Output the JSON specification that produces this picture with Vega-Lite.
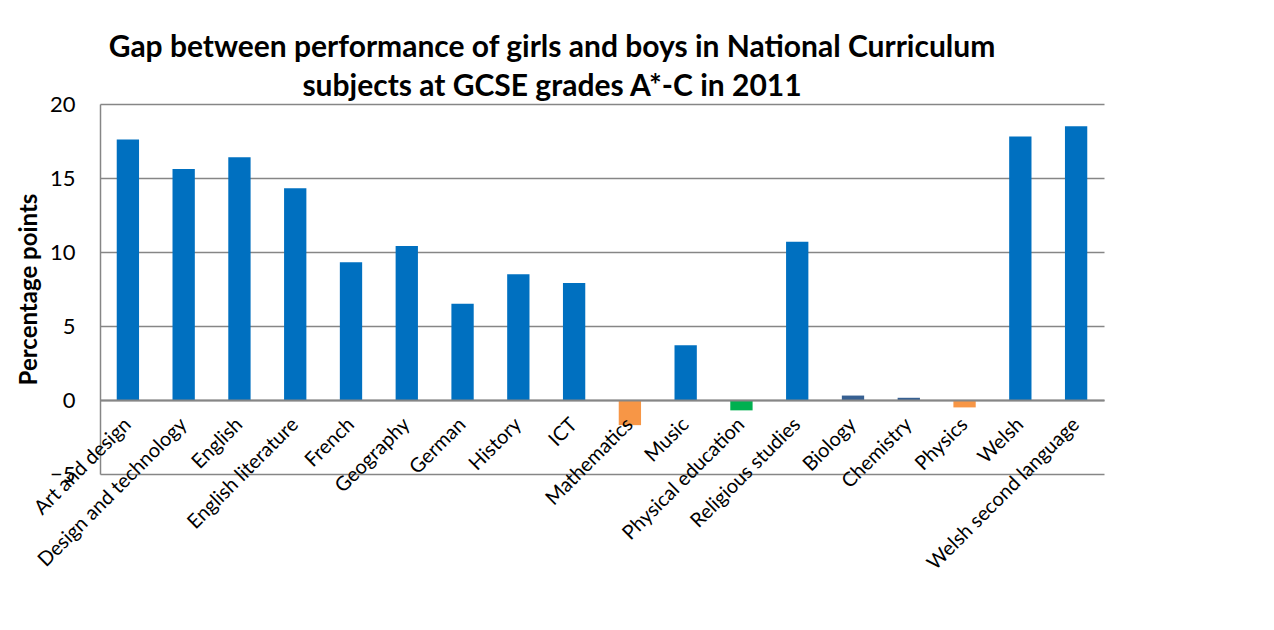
{
  "$schema": "https://vega.github.io/schema/vega-lite/v6.json",
  "width": 1004,
  "height": 370,
  "autosize": {"type": "none"},
  "padding": {"left": 100, "top": 104, "right": 170, "bottom": 156},
  "background": "white",
  "config": {"view": {"stroke": null}},
  "title": {
    "text": ["Gap between performance of girls and boys in National Curriculum", "subjects at GCSE grades A*-C  in 2011"],
    "font": "Lato",
    "fontSize": 30,
    "fontWeight": "bold",
    "color": "black",
    "anchor": "middle",
    "frame": "group",
    "dx": -50,
    "offset": -9,
    "lineHeight": 39
  },
  "data": {
    "values": [
      {"subject": "Art and design", "gap": 17.6},
      {"subject": "Design and technology", "gap": 15.6},
      {"subject": "English", "gap": 16.4},
      {"subject": "English literature", "gap": 14.3},
      {"subject": "French", "gap": 9.3},
      {"subject": "Geography", "gap": 10.4},
      {"subject": "German", "gap": 6.5},
      {"subject": "History", "gap": 8.5},
      {"subject": "ICT", "gap": 7.9},
      {"subject": "Mathematics", "gap": -1.7},
      {"subject": "Music", "gap": 3.7},
      {"subject": "Physical education", "gap": -0.7},
      {"subject": "Religious studies", "gap": 10.7},
      {"subject": "Biology", "gap": 0.3},
      {"subject": "Chemistry", "gap": 0.15},
      {"subject": "Physics", "gap": -0.5},
      {"subject": "Welsh", "gap": 17.8},
      {"subject": "Welsh second language", "gap": 18.5}
    ]
  },
  "mark": {"type": "bar"},
  "encoding": {
    "x": {
      "field": "subject",
      "type": "nominal",
      "sort": null,
      "scale": {"paddingInner": 0.6, "paddingOuter": 0.3},
      "axis": {
        "title": null,
        "orient": "bottom",
        "offset": -74,
        "labelAngle": -45,
        "labelFont": "Lato",
        "labelFontSize": 20,
        "labelColor": "black",
        "labelPadding": 14,
        "labelOffset": -7,
        "labelLimit": 0,
        "labelOverlap": false,
        "ticks": false,
        "grid": false,
        "domainColor": "#868686",
        "domainWidth": 2,
        "zindex": 1
      }
    },
    "y": {
      "field": "gap",
      "type": "quantitative",
      "scale": {"domain": [-5, 20], "nice": false, "zero": false},
      "axis": {
        "title": "Percentage points",
        "titleFont": "Lato",
        "titleFontSize": 24,
        "titleFontWeight": "bold",
        "titleColor": "black",
        "titlePadding": 8,
        "values": [-5, 0, 5, 10, 15, 20],
        "labelFont": "Lato",
        "labelFontSize": 22,
        "labelColor": "black",
        "labelPadding": 25,
        "ticks": false,
        "grid": true,
        "gridColor": "#868686",
        "gridWidth": 1.5,
        "domainColor": "#868686",
        "domainWidth": 1.5
      }
    },
    "color": {
      "field": "subject",
      "type": "nominal",
      "legend": null,
      "scale": {
        "domain": ["Art and design", "Design and technology", "English", "English literature", "French", "Geography", "German", "History", "ICT", "Mathematics", "Music", "Physical education", "Religious studies", "Biology", "Chemistry", "Physics", "Welsh", "Welsh second language"],
        "range": ["#0070C0", "#0070C0", "#0070C0", "#0070C0", "#0070C0", "#0070C0", "#0070C0", "#0070C0", "#0070C0", "#F79646", "#0070C0", "#00B050", "#0070C0", "#376092", "#376092", "#F79646", "#0070C0", "#0070C0"]
      }
    }
  }
}
